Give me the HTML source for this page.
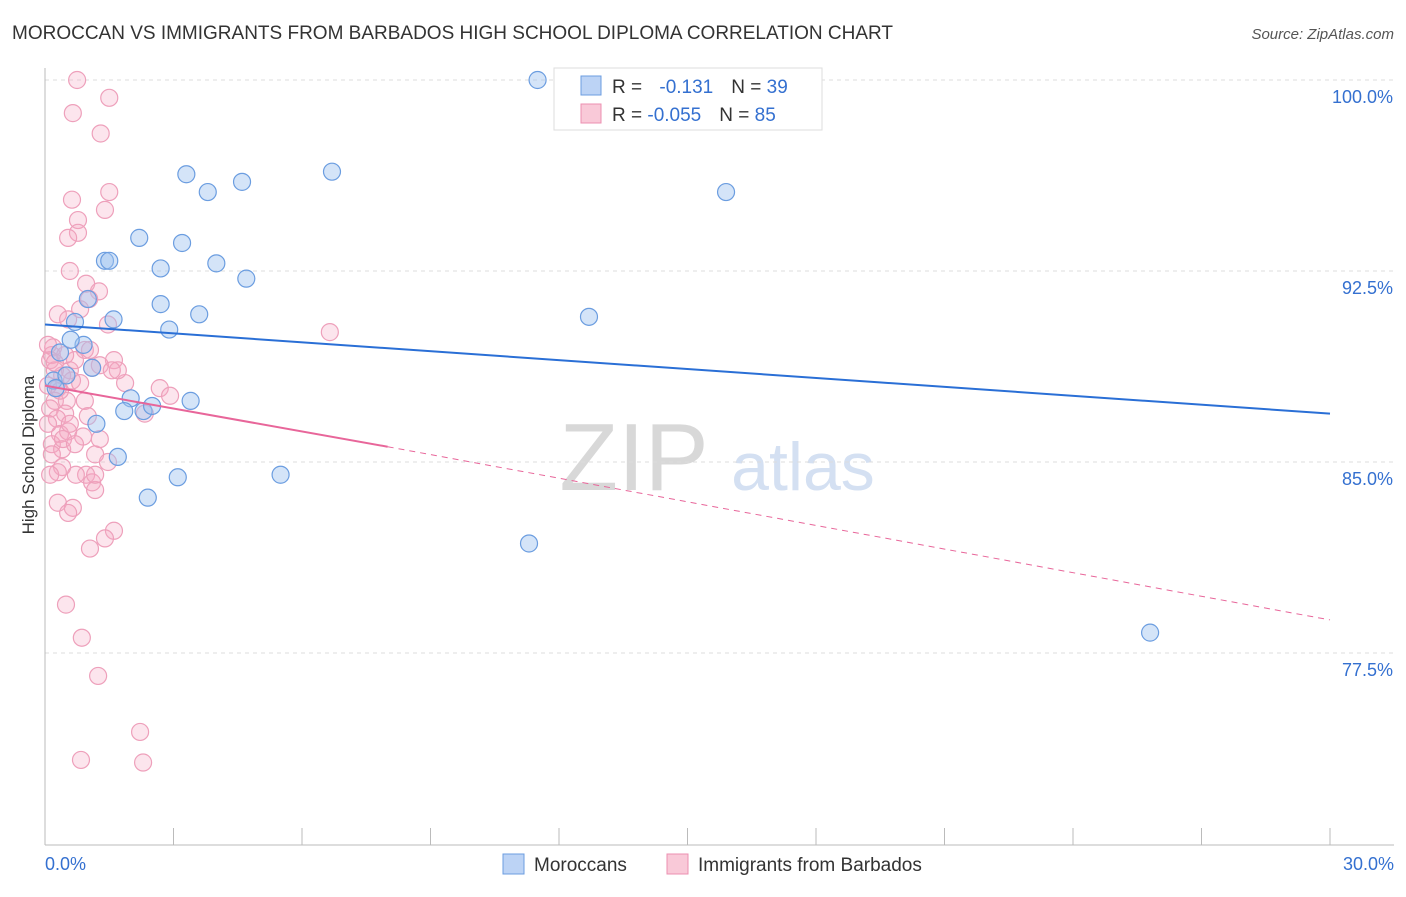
<!DOCTYPE html>
<html><head><meta charset="utf-8"><style>
body{margin:0;background:#fff;font-family:"Liberation Sans",sans-serif;}
svg text{font-family:"Liberation Sans",sans-serif;}
</style></head><body>
<svg id="chart" width="1406" height="892" xmlns="http://www.w3.org/2000/svg">
<text x="12" y="39" font-size="19" fill="#333" textLength="881" lengthAdjust="spacingAndGlyphs">MOROCCAN VS IMMIGRANTS FROM BARBADOS HIGH SCHOOL DIPLOMA CORRELATION CHART</text>
<text x="1394" y="39" font-size="15" fill="#555" font-style="italic" text-anchor="end">Source: ZipAtlas.com</text>
<text x="0" y="0" transform="translate(34,455) rotate(-90)" font-size="17" fill="#333" text-anchor="middle">High School Diploma</text>
<text x="634" y="490" font-size="96" fill="#d8d8d8" font-family="Liberation Serif" text-anchor="middle">ZIP</text>
<text x="803" y="490" font-size="68" fill="#d4e0f2" text-anchor="middle">atlas</text>
<g id="grid"></g><g id="axes"></g><g id="marks"></g>
<g>
<rect x="554" y="68" width="268" height="62" fill="#fff" stroke="#ddd"/>
<rect x="581" y="76" width="20" height="19" fill="#bcd3f5" stroke="#6b9de0"/>
<rect x="581" y="104" width="20" height="19" fill="#f9c9d8" stroke="#ec8fb0"/>
<text x="612" y="93" font-size="19" fill="#333">R = <tspan fill="#3470d0" dx="12">-0.131</tspan><tspan dx="18" fill="#333">N = </tspan><tspan fill="#3470d0">39</tspan></text>
<text x="612" y="121" font-size="19" fill="#333">R = <tspan fill="#3470d0">-0.055</tspan><tspan dx="18" fill="#333">N = </tspan><tspan fill="#3470d0">85</tspan></text>
</g>
<g>
<rect x="503" y="854" width="21" height="20" fill="#bcd3f5" stroke="#6b9de0"/>
<text x="534" y="871" font-size="19" fill="#333">Moroccans</text>
<rect x="667" y="854" width="21" height="20" fill="#f9c9d8" stroke="#ec8fb0"/>
<text x="698" y="871" font-size="19" fill="#333">Immigrants from Barbados</text>
</g>
</svg>
<script>
const yTicks=[100,92.5,85,77.5];
const yTickLabels=["100.0%","92.5%","85.0%","77.5%"];
const blueX=[11.5,3.3,3.8,4.6,6.7,15.9,2.2,3.2,1.4,1.5,2.7,4.0,4.7,1.0,2.7,3.6,2.9,1.6,0.7,12.7,0.9,0.35,1.1,0.2,0.5,2.0,3.4,1.85,2.3,2.5,1.2,1.7,3.1,5.5,2.4,11.3,25.8,0.25,0.6];
const blueY=[100,96.3,95.6,96.0,96.4,95.6,93.8,93.6,92.9,92.9,92.6,92.8,92.2,91.4,91.2,90.8,90.2,90.6,90.5,90.7,89.6,89.3,88.7,88.2,88.4,87.5,87.4,87.0,87.0,87.2,86.5,85.2,84.4,84.5,83.6,81.8,78.3,87.9,89.8];
const pinkX=[0.75,1.5,0.65,1.3,1.5,0.63,1.4,0.77,0.77,0.54,0.58,0.96,1.26,1.03,0.82,0.3,0.54,1.47,6.65,0.93,0.19,0.16,1.61,1.1,0.58,0.4,0.07,1.87,0.63,0.3,2.68,2.92,1.7,0.23,0.93,0.51,0.12,0.47,2.33,0.28,1.0,0.35,0.54,0.89,0.16,0.4,1.17,1.47,0.16,0.4,0.96,0.72,1.1,1.17,0.3,0.65,0.54,1.61,1.4,1.05,0.49,0.86,1.24,2.22,0.84,2.29,0.12,0.23,0.70,0.35,0.07,0.58,1.28,1.56,0.07,0.47,0.23,0.82,0.42,0.3,1.05,1.28,0.7,0.12,1.17];
const pinkY=[100,99.3,98.7,97.9,95.6,95.3,94.9,94.5,94.0,93.8,92.5,92.0,91.7,91.4,91.0,90.8,90.6,90.4,90.1,89.4,89.5,89.2,89.0,88.7,88.6,88.4,88.0,88.1,88.2,87.9,87.9,87.6,88.6,87.4,87.4,87.4,87.1,86.9,86.9,86.7,86.8,86.1,86.2,86.0,85.7,85.5,85.3,85.0,85.3,84.8,84.5,84.5,84.2,83.9,83.4,83.2,83.0,82.3,82.0,81.6,79.4,78.1,76.6,74.4,73.3,73.2,89.0,88.6,89.0,87.8,86.5,86.5,88.8,88.6,89.6,89.2,88.9,88.1,85.9,84.6,89.4,85.9,85.7,84.5,84.5];
const blueLine=[0,90.4,30,86.9];
const pinkSolid=[0,88.0,8.0,85.6];
const pinkDash=[8.0,85.6,30,78.8];
const NS="http://www.w3.org/2000/svg";
const xs=v=>45+v/30*1285, ys=v=>80+(100-v)/7.5*191;
function mk(t,a,p){const e=document.createElementNS(NS,t);for(const k in a)e.setAttribute(k,a[k]);p.appendChild(e);return e;}
const grid=document.getElementById('grid'),axes=document.getElementById('axes'),marks=document.getElementById('marks');
yTicks.forEach((t,i)=>{
 const l=mk('line',{x1:45,x2:1394,y1:ys(t),y2:ys(t),stroke:'#ddd','stroke-dasharray':'4,4'},grid);
 
 
 const tx=mk('text',{x:1393,y:ys(t)+23,'font-size':18,fill:'#3470d0','text-anchor':'end'},axes);
 tx.textContent=yTickLabels[i];
 
 
});
mk('line',{x1:45,x2:45,y1:68,y2:845,stroke:'#bbb'},axes);
mk('line',{x1:45,x2:1394,y1:845,y2:845,stroke:'#bbb'},axes);
for(let i=0;i<=10;i++){const t=mk('line',{x1:xs(i*3),x2:xs(i*3),y1:828,y2:845,stroke:'#bbb'},axes);
 
 }
const xl0=mk('text',{x:45,y:870,'font-size':18,fill:'#3470d0'},axes);xl0.textContent='0.0%';

const xl1=mk('text',{x:1394,y:870,'font-size':18,fill:'#3470d0','text-anchor':'end'},axes);xl1.textContent='30.0%';

pinkX.forEach((x,i)=>{const c=mk('circle',{cx:xs(x),cy:ys(pinkY[i]),r:8.5,fill:'rgba(245,170,195,0.3)',stroke:'#eea0bb','stroke-width':1.2},marks);
 
 });
blueX.forEach((x,i)=>{const c=mk('circle',{cx:xs(x),cy:ys(blueY[i]),r:8.5,fill:'rgba(160,195,240,0.45)',stroke:'#6b9de0','stroke-width':1.2},marks);
 
 });
const bl=mk('line',{x1:xs(blueLine[0]),y1:ys(blueLine[1]),x2:xs(blueLine[2]),y2:ys(blueLine[3]),stroke:'#2a6fd6','stroke-width':2},marks);


const ps=mk('line',{x1:xs(pinkSolid[0]),y1:ys(pinkSolid[1]),x2:xs(pinkSolid[2]),y2:ys(pinkSolid[3]),stroke:'#e8669a','stroke-width':2},marks);


const pd=mk('line',{x1:xs(pinkDash[0]),y1:ys(pinkDash[1]),x2:xs(pinkDash[2]),y2:ys(pinkDash[3]),stroke:'#e8669a','stroke-width':1,'stroke-dasharray':'6,5'},marks);


</script>
</body></html>
